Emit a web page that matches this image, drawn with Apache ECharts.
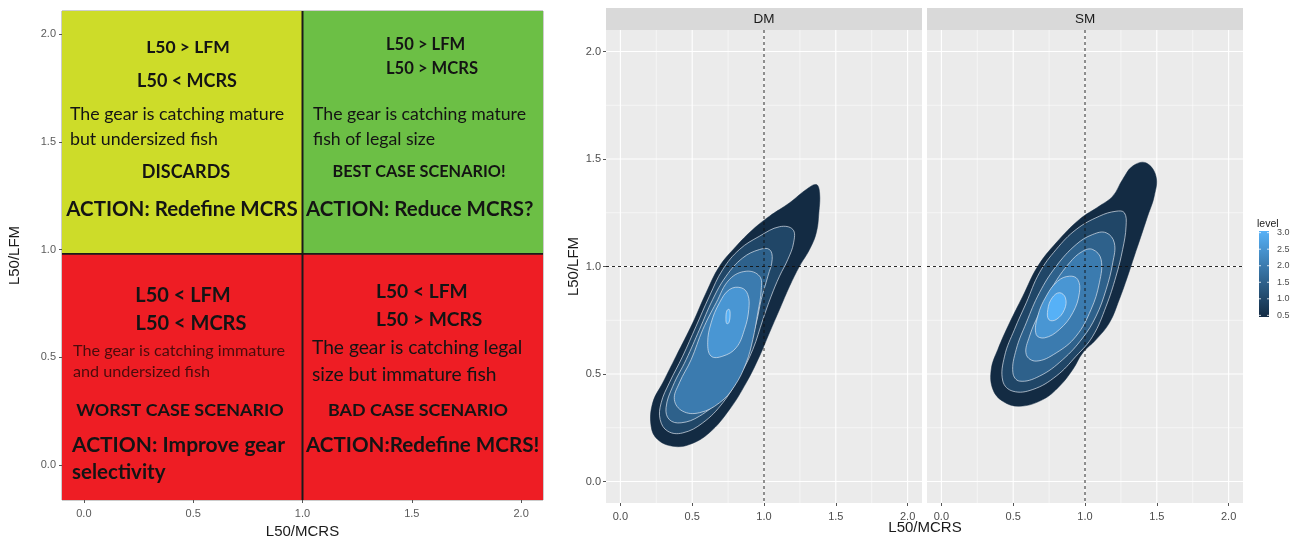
<!DOCTYPE html>
<html><head><meta charset="utf-8">
<script src="https://cdn.jsdelivr.net/npm/echarts@6/dist/echarts.min.js"></script>
<style>html,body{margin:0;padding:0;background:#fff}#c{width:1290px;height:538px}</style>
</head><body><div id="c"></div>
<script>
// ---------------- data ----------------
const axisBreaks = [0, 0.5, 1, 1.5, 2];
const axisTickLabels = ['0.0', '0.5', '1.0', '1.5', '2.0'];
const minorBreaks = [0.25, 0.75, 1.25, 1.75];
const legendBreaks = [0.5, 1, 1.5, 2, 2.5, 3];
const legendTickLabels = ['0.5', '1.0', '1.5', '2.0', '2.5', '3.0'];
const legendRange = [0.45, 3.05];
const densLevels = [0.5, 1, 1.5, 2, 2.5, 3];
const facetNames = ['DM', 'SM'];
const thresholdX = [1];
const thresholdY = [1];

// quadrant chart (left)
const quadNames = ['discards', 'best', 'worst', 'bad'];
const quadX0 = [-0.1, 1, -0.1, 1];
const quadX1 = [1, 2.1, 1, 2.1];
const quadY0 = [0.98, 0.98, -0.163, -0.163];
const quadY1 = [2.108, 2.108, 0.98, 0.98];
const quadSplitX = [1];
const quadSplitY = [0.98];
const quadTexts = [
  ['L50 > LFM', 'L50 < MCRS', 'The gear is catching mature', 'but undersized fish', 'DISCARDS', 'ACTION: Redefine MCRS'],
  ['L50 > LFM', 'L50 > MCRS', 'The gear is catching mature', 'fish of legal size', 'BEST CASE SCENARIO!', 'ACTION: Reduce MCRS?'],
  ['L50 < LFM', 'L50 < MCRS', 'The gear is catching immature', 'and undersized fish', 'WORST CASE SCENARIO', 'ACTION: Improve gear', 'selectivity'],
  ['L50 < LFM', 'L50 > MCRS', 'The gear is catching legal', 'size but immature fish', 'BAD CASE SCENARIO', 'ACTION:Redefine MCRS!']
];

// density contours, DM
const dmLevel05 = [[1.364,1.381],[1.387,1.343],[1.382,1.250],[1.364,1.157],[1.317,1.079],[1.247,1.001],[1.178,0.908],[1.108,0.800],[1.038,0.692],[0.969,0.583],[0.876,0.459],[0.760,0.335],[0.620,0.227],[0.481,0.172],[0.365,0.164],[0.260,0.195],[0.214,0.257],[0.225,0.366],[0.295,0.459],[0.388,0.583],[0.504,0.738],[0.597,0.878],[0.690,1.001],[0.806,1.094],[0.922,1.172],[1.038,1.234],[1.178,1.296],[1.294,1.358]];
const dmLevel10 = [[1.201,1.172],[1.206,1.110],[1.166,1.033],[1.108,0.955],[1.050,0.862],[0.992,0.753],[0.922,0.614],[0.829,0.490],[0.713,0.366],[0.574,0.273],[0.434,0.226],[0.330,0.234],[0.277,0.288],[0.284,0.366],[0.341,0.459],[0.434,0.583],[0.527,0.722],[0.620,0.862],[0.713,0.986],[0.829,1.079],[0.969,1.141],[1.108,1.185]];
const dmLevel15 = [[1.038,1.079],[1.057,1.033],[1.027,0.955],[0.981,0.847],[0.946,0.738],[0.887,0.614],[0.806,0.490],[0.690,0.381],[0.551,0.304],[0.423,0.273],[0.341,0.288],[0.318,0.343],[0.365,0.443],[0.458,0.567],[0.551,0.707],[0.643,0.847],[0.736,0.955],[0.852,1.040],[0.969,1.079]];
const dmLevel20 = [[0.969,0.955],[0.981,0.893],[0.957,0.785],[0.922,0.660],[0.876,0.552],[0.794,0.443],[0.690,0.366],[0.551,0.320],[0.434,0.327],[0.376,0.381],[0.411,0.459],[0.493,0.567],[0.574,0.707],[0.667,0.831],[0.760,0.940],[0.876,0.978]];
const dmLevel25 = [[0.841,0.901],[0.887,0.870],[0.894,0.800],[0.864,0.707],[0.806,0.622],[0.713,0.583],[0.632,0.583],[0.608,0.645],[0.632,0.738],[0.690,0.831],[0.760,0.893]];
const dmLevel30 = [[0.758,0.800],[0.764,0.775],[0.755,0.738],[0.740,0.735],[0.735,0.760],[0.742,0.795]];

// density contours, SM
const smLevel05 = [[1.424,1.482],[1.494,1.420],[1.482,1.327],[1.436,1.234],[1.390,1.141],[1.343,1.048],[1.297,0.955],[1.239,0.847],[1.170,0.738],[1.077,0.660],[0.984,0.598],[0.915,0.521],[0.822,0.443],[0.706,0.381],[0.544,0.350],[0.428,0.373],[0.359,0.428],[0.347,0.521],[0.393,0.614],[0.475,0.738],[0.567,0.862],[0.671,1.001],[0.799,1.110],[0.961,1.219],[1.100,1.281],[1.193,1.327],[1.262,1.405],[1.332,1.467]];
const smLevel10 = [[1.274,1.250],[1.286,1.188],[1.262,1.079],[1.216,0.955],[1.147,0.815],[1.054,0.676],[0.938,0.583],[0.799,0.490],[0.637,0.428],[0.498,0.420],[0.428,0.467],[0.440,0.583],[0.509,0.707],[0.591,0.831],[0.683,0.971],[0.799,1.079],[0.938,1.172],[1.100,1.234],[1.216,1.257]];
const smLevel15 = [[1.147,1.157],[1.204,1.110],[1.193,1.017],[1.147,0.893],[1.077,0.769],[0.984,0.668],[0.845,0.567],[0.683,0.490],[0.544,0.467],[0.498,0.506],[0.521,0.614],[0.591,0.738],[0.683,0.878],[0.799,1.001],[0.938,1.102],[1.054,1.149]];
const smLevel20 = [[1.054,1.079],[1.112,1.033],[1.100,0.924],[1.042,0.800],[0.938,0.676],[0.799,0.598],[0.660,0.560],[0.591,0.591],[0.614,0.676],[0.683,0.785],[0.776,0.908],[0.892,1.017],[0.984,1.071]];
const smLevel25 = [[0.892,0.955],[0.949,0.940],[0.961,0.878],[0.915,0.785],[0.822,0.707],[0.718,0.668],[0.660,0.684],[0.671,0.769],[0.730,0.862],[0.810,0.932]];
const smLevel30 = [[0.822,0.878],[0.864,0.854],[0.857,0.800],[0.799,0.753],[0.748,0.753],[0.741,0.800],[0.771,0.854]];

const dmContours = [dmLevel05, dmLevel10, dmLevel15, dmLevel20, dmLevel25, dmLevel30];
const smContours = [smLevel05, smLevel10, smLevel15, smLevel20, smLevel25, smLevel30];

// ---------------- styles / layout ----------------
const quadColors = ['#cddc29', '#6cbf45', '#ee1d24', '#ee1d24'];
const lowColor = [19, 43, 67], highColor = [86, 177, 247];
function levelColor(l) {
  const t = Math.max(0, Math.min(1, (l - 0.5) / 2.5));
  const c = lowColor.map((v, i) => Math.round(v + (highColor[i] - v) * t));
  return 'rgb(' + c.join(',') + ')';
}
const AF = '"Liberation Sans", Arial, sans-serif';
const QF = 'Lato, "Open Sans", sans-serif';
const GB = {outerBoundsMode: 'none', containLabel: false};
const GRIDS = [
  Object.assign({left: 62, top: 11, width: 481, height: 489, show: true, borderColor: '#9a9a9a', borderWidth: 1, backgroundColor: 'transparent'}, GB),
  Object.assign({left: 606, top: 30, width: 316, height: 473, show: true, backgroundColor: '#ebebeb', borderWidth: 0}, GB),
  Object.assign({left: 927, top: 30, width: 316, height: 473, show: true, backgroundColor: '#ebebeb', borderWidth: 0}, GB),
  Object.assign({left: 1259, top: 231, width: 10, height: 86, show: false}, GB)
];
// quadrant text layout: [x px, y px, align, size, bold, color]
const quadLayout = [
  [[188,47,'center',17.5,1],[187,81,'center',18,1],[70,114,'left',17.8,0],[70,139,'left',17.8,0],[186,172,'center',18,1],[182,209,'center',20.5,1]],
  [[386,45,'left',16.6,1],[386,69,'left',16.6,1],[313,114,'left',17.7,0],[313,139,'left',17.7,0],[419,172,'center',16.3,1],[306,209,'left',20.5,1]],
  [[183,296,'center',20,1],[191,324,'center',20,1],[73,351,'left',16.2,0,'#4a0c0c'],[73,372,'left',16.2,0,'#4a0c0c'],[180,410,'center',17.9,1],[72,445,'left',21,1],[72,472,'left',20.5,1]],
  [[376,292,'left',19.2,1],[376,320,'left',19.2,1],[312,348,'left',19.2,0],[312,375,'left',19.2,0],[418,410,'center',17.9,1],[306,445,'left',20.6,1]]
];

function labelFor(v, breaks, labels) {
  let best = 0;
  breaks.forEach((b, i) => { if (Math.abs(b - v) < Math.abs(breaks[best] - v)) best = i; });
  return labels[best];
}
function valAxis(gi, min, max, opt) {
  opt = opt || {};
  return Object.assign({
    type: 'value', gridIndex: gi, min, max,
    axisLine: {show: false, onZero: false},
    axisTick: {show: true, customValues: axisBreaks, length: 3, lineStyle: {color: '#555', width: 1}},
    axisLabel: {show: true, customValues: axisBreaks, formatter: v => labelFor(v, axisBreaks, axisTickLabels),
      color: '#4d4d4d', fontSize: 11, fontFamily: AF, margin: 5},
    splitLine: {show: false}
  }, opt);
}

const xAxes = [
  valAxis(0, -0.1, 2.1, {name: 'L50/MCRS', nameLocation: 'middle', nameGap: 22,
    nameTextStyle: {fontSize: 15, color: '#1a1a1a', fontFamily: AF}}),
  valAxis(1, -0.1, 2.1),
  valAxis(2, -0.1, 2.1),
  {type: 'value', gridIndex: 3, min: 0, max: 1, show: false}
];
xAxes[0].axisLabel.margin = 8;
xAxes[0].axisLabel.color = '#5a5a5a';
xAxes[1].axisLabel.margin = 8;
xAxes[2].axisLabel.margin = 8;
const yAxes = [
  valAxis(0, -0.163, 2.108, {name: 'L50/LFM', nameLocation: 'middle', nameGap: 40,
    nameTextStyle: {fontSize: 15, color: '#1a1a1a', fontFamily: AF}}),
  valAxis(1, -0.1, 2.1, {name: 'L50/LFM', nameLocation: 'middle', nameGap: 23,
    nameTextStyle: {fontSize: 15, color: '#1a1a1a', fontFamily: AF}}),
  valAxis(2, -0.1, 2.1, {axisTick: {show: false}, axisLabel: {show: false}}),
  {type: 'value', gridIndex: 3, min: legendRange[0], max: legendRange[1], position: 'right',
    axisLine: {show: false, onZero: false}, axisTick: {show: false}, splitLine: {show: false},
    axisLabel: {customValues: legendBreaks, formatter: v => labelFor(v, legendBreaks, legendTickLabels),
      color: '#4d4d4d', fontSize: 9, fontFamily: AF, margin: 8}}
];
yAxes[0].axisLabel.color = '#5a5a5a';
yAxes[0].axisLabel.margin = 6;

const series = [];
// quadrant rectangles
series.push({
  type: 'custom', xAxisIndex: 0, yAxisIndex: 0, silent: true, animation: false, z: 2,
  data: quadNames.map((n, i) => [quadX0[i], quadX1[i], quadY0[i], quadY1[i]]),
  encode: {x: [0, 1], y: [2, 3]},
  renderItem(params, api) {
    const p0 = api.coord([api.value(0), api.value(3)]);
    const p1 = api.coord([api.value(1), api.value(2)]);
    return {type: 'rect', shape: {x: p0[0], y: p0[1], width: p1[0] - p0[0], height: p1[1] - p0[1]},
      style: {fill: quadColors[params.dataIndex]}};
  }
});
// quadrant split lines
series.push({
  type: 'custom', xAxisIndex: 0, yAxisIndex: 0, silent: true, animation: false, z: 3,
  data: quadSplitX.map(v => [v, v, 0]).concat(quadSplitY.map(v => [v, v, 1])),
  encode: {x: 0, y: 1},
  renderItem(params, api) {
    const cs = params.coordSys, v = api.value(0), o = api.value(2);
    const p = api.coord([v, v]);
    const shape = o === 0 ? {x1: p[0], y1: cs.y, x2: p[0], y2: cs.y + cs.height}
                          : {x1: cs.x, y1: p[1], x2: cs.x + cs.width, y2: p[1]};
    return {type: 'line', shape, style: {stroke: '#1a1a1a', lineWidth: o === 0 ? 2 : 1.6}};
  }
});

function gridLineSeries(gi) {
  const data = [];
  minorBreaks.forEach(v => { data.push([v, v, 0, 0]); data.push([v, v, 1, 0]); });
  axisBreaks.forEach(v => { data.push([v, v, 0, 1]); data.push([v, v, 1, 1]); });
  return {type: 'custom', xAxisIndex: gi, yAxisIndex: gi, silent: true, animation: false, z: 1,
    data, encode: {x: 0, y: 1},
    renderItem(params, api) {
      const cs = params.coordSys, v = api.value(0), o = api.value(2), m = api.value(3);
      const p = api.coord([v, v]);
      const shape = o === 0 ? {x1: p[0], y1: cs.y, x2: p[0], y2: cs.y + cs.height}
                            : {x1: cs.x, y1: p[1], x2: cs.x + cs.width, y2: p[1]};
      return {type: 'line', shape, style: {stroke: '#ffffff', lineWidth: m ? 1.1 : 0.55}};
    }};
}
function polySeries(gi, pts, level, stroked) {
  return {type: 'custom', xAxisIndex: gi, yAxisIndex: gi, silent: true, animation: false, z: 2,
    data: pts, encode: {x: 0, y: 1},
    renderItem(params, api) {
      if (params.dataIndex !== 0) return null;
      const points = pts.map(p => api.coord(p));
      return {type: 'polygon', shape: {points, smooth: 0.4},
        style: {fill: levelColor(level), stroke: stroked ? 'rgba(225,232,240,0.85)' : levelColor(level),
          lineWidth: stroked ? 0.8 : 0.5}};
    }};
}
function thresholdSeries(gi) {
  const data = thresholdX.map(v => [v, v, 0]).concat(thresholdY.map(v => [v, v, 1]));
  return {type: 'custom', xAxisIndex: gi, yAxisIndex: gi, silent: true, animation: false, z: 4,
    data, encode: {x: 0, y: 1},
    renderItem(params, api) {
      const cs = params.coordSys, v = api.value(0), o = api.value(2);
      const p = api.coord([v, v]);
      const shape = o === 0 ? {x1: p[0], y1: cs.y, x2: p[0], y2: cs.y + cs.height}
                            : {x1: cs.x, y1: p[1], x2: cs.x + cs.width, y2: p[1]};
      return {type: 'line', shape, style: {stroke: '#111', lineWidth: 0.9, lineDash: [3, 3]}};
    }};
}
[dmContours, smContours].forEach((cont, k) => {
  const gi = k + 1;
  series.push(gridLineSeries(gi));
  cont.forEach((pts, j) => series.push(polySeries(gi, pts, densLevels[j], j > 0)));
  series.push(thresholdSeries(gi));
});
// legend colourbar
series.push({
  type: 'custom', xAxisIndex: 3, yAxisIndex: 3, silent: true, animation: false, z: 2,
  data: [[0, legendRange[0]], [1, legendRange[1]]], encode: {x: 0, y: 1},
  renderItem(params, api) {
    if (params.dataIndex !== 0) return null;
    const p0 = api.coord([0, legendRange[1]]), p1 = api.coord([1, legendRange[0]]);
    return {type: 'rect', shape: {x: p0[0], y: p0[1], width: p1[0] - p0[0], height: p1[1] - p0[1]},
      style: {fill: new echarts.graphic.LinearGradient(0, 0, 0, 1, [
        {offset: 0, color: levelColor(3.05)}, {offset: 1, color: levelColor(0.45)}])}};
  }
});
series.push({
  type: 'custom', xAxisIndex: 3, yAxisIndex: 3, silent: true, animation: false, z: 3,
  data: legendBreaks.map(v => [0, v]), encode: {x: 0, y: 1},
  renderItem(params, api) {
    const cs = params.coordSys; const p = api.coord([0, api.value(1)]);
    return {type: 'group', children: [
      {type: 'line', shape: {x1: cs.x, y1: p[1], x2: cs.x + 2, y2: p[1]}, style: {stroke: '#fff', lineWidth: 0.8}},
      {type: 'line', shape: {x1: cs.x + cs.width - 2, y1: p[1], x2: cs.x + cs.width, y2: p[1]}, style: {stroke: '#fff', lineWidth: 0.8}}
    ]};
  }
});

// graphics: strips, titles, quadrant texts
const graphic = [];
[GRIDS[1], GRIDS[2]].forEach((g, i) => {
  graphic.push({type: 'rect', left: g.left, top: 8, shape: {width: g.width, height: 22}, style: {fill: '#d9d9d9'}, silent: true});
  graphic.push({type: 'text', x: g.left + g.width / 2, y: 19.5, style: {text: facetNames[i], font: '13.5px ' + AF,
    fill: '#1a1a1a', textAlign: 'center', textVerticalAlign: 'middle'}, silent: true});
});
graphic.push({type: 'text', x: 925, y: 528, style: {text: 'L50/MCRS', font: '15px ' + AF, fill: '#1a1a1a',
  textAlign: 'center', textVerticalAlign: 'middle'}, silent: true});
graphic.push({type: 'text', x: 1257, y: 224, style: {text: 'level', font: '10.5px ' + AF, fill: '#1a1a1a',
  textAlign: 'left', textVerticalAlign: 'middle'}, silent: true});
quadTexts.forEach((lines, q) => {
  lines.forEach((t, j) => {
    const L = quadLayout[q][j];
    graphic.push({type: 'text', x: L[0], y: L[1], z: 10, silent: true,
      style: {text: t, font: (L[4] ? 'bold ' : '') + L[3] + 'px ' + QF, fill: L[5] || '#141414',
        textAlign: L[2], textVerticalAlign: 'middle'}});
  });
});

const chart = echarts.init(document.getElementById('c'));
chart.setOption({
  animation: false,
  backgroundColor: '#ffffff',
  grid: GRIDS,
  xAxis: xAxes,
  yAxis: yAxes,
  series,
  graphic
});
</script></body></html>
